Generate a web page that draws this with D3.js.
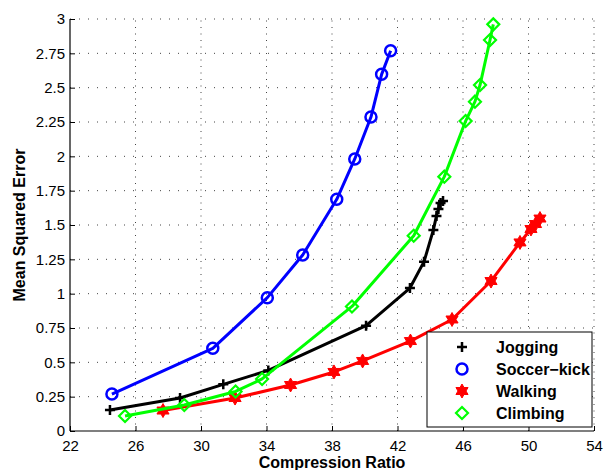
<!DOCTYPE html>
<html>
<head>
<meta charset="utf-8">
<script src="https://cdn.jsdelivr.net/npm/d3@7"></script>
<style>
  body { margin: 0; background: #fff; }
  svg { display: block; font-family: "Liberation Sans", Arial, sans-serif; }
</style>
</head>
<body>
<svg width="605" height="470"></svg>
<script>
// data
var xTicks = [22, 26, 30, 34, 38, 42, 46, 50, 54];
var yTicks = [0, 0.25, 0.5, 0.75, 1, 1.25, 1.5, 1.75, 2, 2.25, 2.5, 2.75, 3];
var yTickLabels = ["0", "0.25", "0.5", "0.75", "1", "1.25", "1.5", "1.75", "2", "2.25", "2.5", "2.75", "3"];

var seriesNames = ["Jogging", "Soccer\u2212kick", "Walking", "Climbing"];

var joggingX = [24.44, 28.72, 31.36, 34.11, 40.08, 42.76, 43.62, 44.19, 44.38, 44.50, 44.63, 44.78];
var joggingY = [0.153, 0.240, 0.340, 0.441, 0.767, 1.041, 1.233, 1.464, 1.566, 1.617, 1.660, 1.675];

var soccerX = [24.56, 30.72, 34.05, 36.21, 38.29, 39.39, 40.38, 41.03, 41.58];
var soccerY = [0.269, 0.602, 0.971, 1.282, 1.687, 1.981, 2.286, 2.597, 2.769];

var walkingX = [27.68, 32.08, 35.47, 38.12, 39.87, 42.79, 45.33, 47.71, 49.48, 50.15, 50.43, 50.70];
var walkingY = [0.149, 0.240, 0.335, 0.430, 0.510, 0.655, 0.812, 1.092, 1.373, 1.471, 1.507, 1.547];

var climbingX = [25.36, 28.98, 32.11, 33.73, 39.22, 42.99, 44.86, 46.16, 46.73, 47.04, 47.65, 47.85];
var climbingY = [0.109, 0.189, 0.288, 0.379, 0.907, 1.422, 1.852, 2.257, 2.398, 2.519, 2.847, 2.961];

var svg = d3.select("svg");

var x = d3.scaleLinear().domain([22, 54]).range([70, 594]);
var y = d3.scaleLinear().domain([0, 3]).range([431, 19]);

// grid
var grid = svg.append("g");
grid.selectAll("line.v")
    .data(xTicks.slice(1))
    .enter().append("line")
    .attr("x1", d => x(d)).attr("x2", d => x(d))
    .attr("y1", y(0)).attr("y2", y(3))
    .attr("stroke", "#444").attr("stroke-width", 1)
    .attr("stroke-dasharray", "1,5.5");
grid.selectAll("line.h")
    .data(yTicks.slice(1))
    .enter().append("line")
    .attr("x1", x(22)).attr("x2", x(54))
    .attr("y1", d => y(d)).attr("y2", d => y(d))
    .attr("stroke", "#444").attr("stroke-width", 1)
    .attr("stroke-dasharray", "1,8");

// axes
var xAxis = d3.axisBottom(x).tickValues(xTicks).tickSize(-5).tickPadding(9);
var yAxis = d3.axisLeft(y).tickValues(yTicks).tickSize(-5).tickPadding(5)
    .tickFormat((d, i) => yTickLabels[i]);

var gx = svg.append("g").attr("transform", "translate(0," + y(0) + ")").call(xAxis);
var gy = svg.append("g").attr("transform", "translate(" + x(22) + ",0)").call(yAxis);
[gx, gy].forEach(function (g) {
  g.select(".domain").attr("stroke", "#000").attr("stroke-width", 1.2);
  g.selectAll(".tick line").attr("stroke", "#000");
  g.selectAll(".tick text").attr("fill", "#000")
    .style("font-size", "15px")
    .style("font-family", "'Liberation Sans', Arial, sans-serif");
});
gx.select(".domain").attr("d", "M" + x(22) + ",0H" + x(54));
gy.select(".domain").attr("d", "M0," + y(0) + "V" + y(3));

// axis titles
svg.append("text")
    .attr("x", (x(22) + x(54)) / 2)
    .attr("y", 468)
    .attr("text-anchor", "middle")
    .style("font-size", "16px").style("font-weight", "bold")
    .text("Compression Ratio");
svg.append("text")
    .attr("transform", "translate(25," + (y(0) + y(3)) / 2 + ") rotate(-90)")
    .attr("text-anchor", "middle")
    .style("font-size", "16px").style("font-weight", "bold")
    .text("Mean Squared Error");

// markers
var plusSym = { draw: function (ctx, size) {
  var r = 5;
  ctx.moveTo(-r, 0); ctx.lineTo(r, 0);
  ctx.moveTo(0, -r); ctx.lineTo(0, r);
}};
var circleSym = { draw: function (ctx, size) {
  ctx.moveTo(5.5, 0); ctx.arc(0, 0, 5.5, 0, 2 * Math.PI);
}};
var diamondSym = { draw: function (ctx, size) {
  var r = 6;
  ctx.moveTo(0, -r); ctx.lineTo(r, 0); ctx.lineTo(0, r); ctx.lineTo(-r, 0); ctx.closePath();
}};
var hexSym = { draw: function (ctx, size) {
  var ro = 7, ri = 4;
  for (var i = 0; i < 12; i++) {
    var a = -Math.PI / 2 + i * Math.PI / 6;
    var r = i % 2 === 0 ? ro : ri;
    if (i === 0) ctx.moveTo(r * Math.cos(a), r * Math.sin(a));
    else ctx.lineTo(r * Math.cos(a), r * Math.sin(a));
  }
  ctx.closePath();
}};

var series = [
  { name: seriesNames[0], xs: joggingX, ys: joggingY, color: "#000000", sym: plusSym, fill: "none", sw: 2.5 },
  { name: seriesNames[1], xs: soccerX, ys: soccerY, color: "#0000ff", sym: circleSym, fill: "none", sw: 2.5 },
  { name: seriesNames[2], xs: walkingX, ys: walkingY, color: "#ff0000", sym: hexSym, fill: "#ff0000", sw: 1 },
  { name: seriesNames[3], xs: climbingX, ys: climbingY, color: "#00ff00", sym: diamondSym, fill: "none", sw: 2.2 }
];

var line = d3.line().x(d => x(d[0])).y(d => y(d[1]));

series.forEach(function (s) {
  var pts = s.xs.map((v, i) => [v, s.ys[i]]);
  var g = svg.append("g");
  g.append("path")
      .attr("d", line(pts))
      .attr("fill", "none")
      .attr("stroke", s.color)
      .attr("stroke-width", 3)
      .attr("stroke-linejoin", "round");
  g.selectAll("path.m")
      .data(pts)
      .enter().append("path")
      .attr("transform", d => "translate(" + x(d[0]) + "," + y(d[1]) + ")")
      .attr("d", d3.symbol().type(s.sym))
      .attr("fill", s.fill)
      .attr("stroke", s.color)
      .attr("stroke-width", s.sw);
});

// legend
var legend = svg.append("g").attr("transform", "translate(427,332)");
legend.append("rect")
    .attr("width", 165).attr("height", 95)
    .attr("fill", "#fff").attr("stroke", "#000").attr("stroke-width", 1);
series.forEach(function (s, i) {
  var ly = 15 + i * 22;
  legend.append("path")
      .attr("transform", "translate(35," + ly + ")")
      .attr("d", d3.symbol().type(s.sym))
      .attr("fill", s.fill)
      .attr("stroke", s.color)
      .attr("stroke-width", s.sw);
  legend.append("text")
      .attr("x", 69).attr("y", ly + 6)
      .style("font-size", "16px").style("font-weight", "bold")
      .text(s.name);
});
</script>
</body>
</html>
